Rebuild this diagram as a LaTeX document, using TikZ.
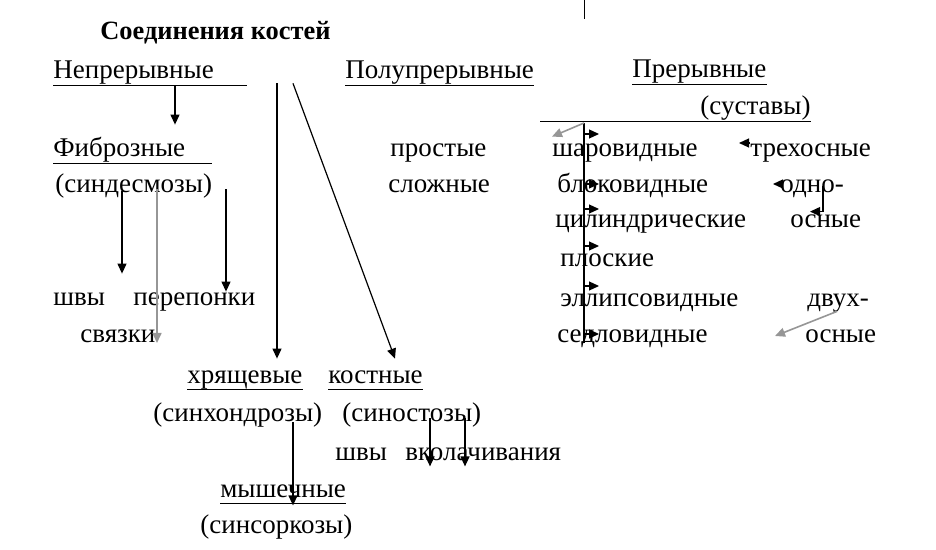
\documentclass[tikz,border=0pt]{standalone}
\usepackage{fontspec}
\setmainfont{Liberation Serif}
\usepackage{xcolor}
\definecolor{jgray}{RGB}{150,150,150}
\usetikzlibrary{arrows.meta, positioning, calc}

\begin{document}
\begin{tikzpicture}[x=0.5pt, y=-0.5pt,
    lbl/.style={inner sep=0pt, anchor=base west, text height=10pt, text depth=3pt,
                font=\fontsize{13.5}{16}\selectfont},
    arr/.style={-{Triangle[length=5pt, width=4.5pt]}, semithick},
    garr/.style={arr, jgray, thick},
    uline/.style={semithick}]
  \useasboundingbox (0,0) rectangle (936,550);

  % Title and the three main groups
  \node[lbl, font=\fontsize{13.2}{16}\selectfont\bfseries] (title) at (100,40) {Соединения костей};
  \node[lbl] (nep)  at (53,79)  {Непрерывные};
  \node[lbl] (polu) at (345,79) {Полупрерывные};
  \node[lbl] (prer) at (632,78) {Прерывные};
  \node[lbl] (sust) at (700,115) {(суставы)};
  \draw[uline] (nep.south west) -- (nep.south west -| 247,0);
  \draw[uline] (polu.south west) -- (polu.south east);
  \draw[uline] (prer.south west) -- (prer.south east);
  \draw[uline] (sust.south east) -- (sust.south east -| 540,0);
  \draw (584,0) -- (584,19);

  % Continuous joints -- fibrous
  \node[lbl] (fib)   at (53,157)  {Фиброзные};
  \node[lbl] (sind)  at (55,193)  {(синдесмозы)};
  \node[lbl] (shvyA) at (53,306)  {швы};
  \node[lbl] (perep) at (133,306) {перепонки};
  \node[lbl] (svyaz) at (80,343)  {связки};
  \draw[uline] (fib.south west) -- (fib.south west -| 212,0);
  \draw[arr] (nep.south -| 175,0) -- ([yshift=6pt]fib.north -| 175,0);
  \draw[arr] ([yshift=4pt]sind.south -| 122,0) -- ([yshift=6pt]shvyA.north -| 122,0);
  \draw[garr] ([yshift=5pt]sind.south -| 157,0) -- (svyaz.base -| 157,0);
  \draw[arr] ([yshift=5pt]sind.south -| 226,0) -- ([yshift=-3pt]perep.north -| 226,0);

  % Cartilage, bone, muscle
  \node[lbl] (hryash) at (187,383) {хрящевые};
  \node[lbl] (kost)   at (328,383) {костные};
  \node[lbl] (sinh)   at (153,422) {(синхондрозы)};
  \node[lbl] (sinost) at (342,422) {(синостозы)};
  \node[lbl] (shvyB)  at (335,460) {швы};
  \node[lbl] (vkol)   at (405,460) {вколачивания};
  \node[lbl] (mysh)   at (220,497) {мышечные};
  \node[lbl] (sins)   at (200,533) {(синсоркозы)};
  \draw[uline] (hryash.south west) -- (hryash.south east);
  \draw[uline] (kost.south west) -- (kost.south east);
  \draw[uline] (mysh.south west) -- (mysh.south east);
  \draw[arr] ([yshift=1pt]nep.south east -| 277,0) -- ([yshift=2pt]hryash.north -| 277,0);
  \draw[arr] ([yshift=1pt]nep.south east -| 293,0) -- ([yshift=2pt]kost.north -| 395,0);
  \draw[arr] ([yshift=3pt]sinh.south -| 293,0) -- ([yshift=-1pt]mysh.south -| 293,0);
  \draw[arr] ([yshift=5pt]sinost.south -| 430,0) -- (vkol.south -| 430,0);
  \draw[arr] ([yshift=5pt]sinost.south -| 465,0) -- (vkol.south -| 465,0);

  % Semi-continuous
  \node[lbl] (prost) at (390,157) {простые};
  \node[lbl] (slozh) at (388,193) {сложные};

  % Synovial joints by shape
  \node[lbl] (shar)  at (552,157) {шаровидные};
  \node[lbl] (blok)  at (557,193) {блоковидные};
  \node[lbl] (cil)   at (555,228) {цилиндрические};
  \node[lbl] (plosk) at (560,267) {плоские};
  \node[lbl] (ell)   at (560,307) {эллипсовидные};
  \node[lbl] (sedl)  at (557,343) {седловидные};
  \coordinate (spine) at (584,123);
  \draw[semithick] (spine) -- (spine |- sedl.base);
  \draw[garr] (spine) -- (shar.north west);
  \foreach \row/\dy in {shar/8pt, blok/1pt, cil/6pt, plosk/7pt, ell/7pt, sedl/1pt}
    \draw[arr] ([yshift=\dy]\row.west -| spine) -- ++(15,0);

  % Synovial joints by axes
  \node[lbl] (treh) at (750,157) {трехосные};
  \node[lbl] (odno) at (780,193) {одно-};
  \node[lbl] (osn1) at (790,228) {осные};
  \node[lbl] (dvuh) at (807,307) {двух-};
  \node[lbl] (osn2) at (805,343) {осные};
  \draw[arr] ([yshift=3.5pt]treh.west) -- ++(-11,0);
  \draw[arr] ([yshift=1pt]odno.west) -- ++(-7,0);
  \draw[arr] (odno.center -| 823,0) |- ([yshift=-2pt]osn1.north -| 810,0);
  \draw[garr] ([yshift=1pt]dvuh.south east -| 837,0) -- (osn2.west -| 775,0);
\end{tikzpicture}
\end{document}
